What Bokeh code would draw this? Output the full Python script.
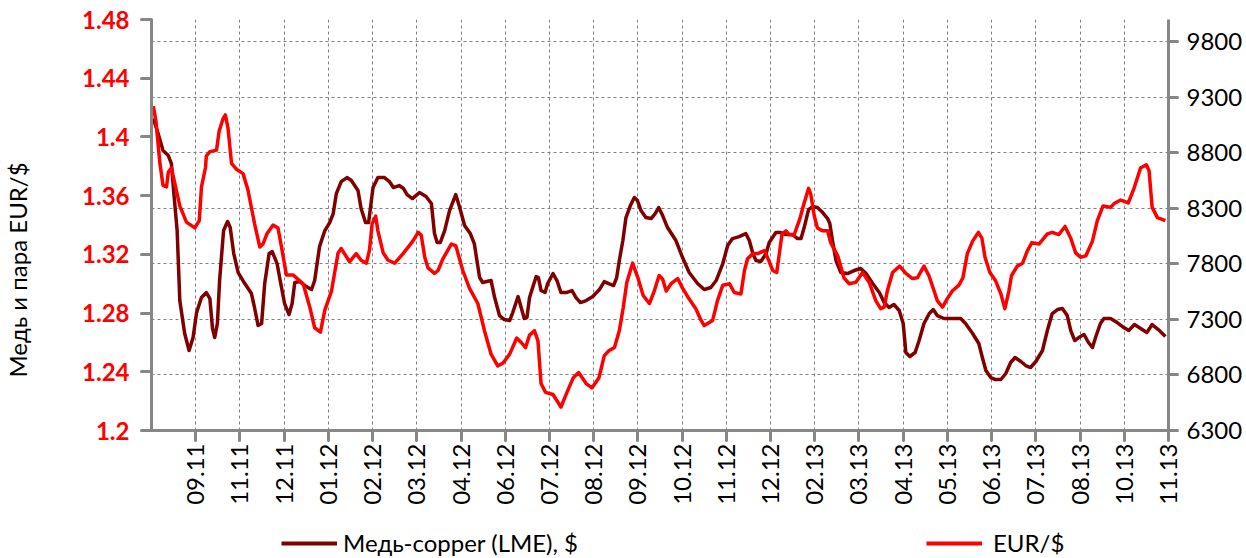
import math
from bokeh.plotting import figure
from bokeh.layouts import column
from bokeh.models import Range1d, LinearAxis, FixedTicker, Legend, LegendItem
from bokeh.embed import file_html
from bokeh.resources import INLINE

# ---- categories / tick labels ----
month_labels = ["09.11", "11.11", "12.11", "01.12", "02.12", "03.12", "04.12", "06.12",
                "07.12", "08.12", "09.12", "10.12", "11.12", "12.12", "02.13", "03.13",
                "04.13", "05.13", "06.13", "07.13", "08.13", "10.13", "11.13"]
month_pos = list(range(1, 24))

eur_ticks = [1.2, 1.24, 1.28, 1.32, 1.36, 1.4, 1.44, 1.48]
eur_tick_labels = ["1.2", "1.24", "1.28", "1.32", "1.36", "1.4", "1.44", "1.48"]
cu_ticks = [6300, 6800, 7300, 7800, 8300, 8800, 9300, 9800]

y_title = "Медь и пара EUR/$"

# ---- series: EUR/$ (left axis) ----
eur_t = [0.04, 0.10, 0.19, 0.26, 0.34, 0.38, 0.45, 0.53, 0.64, 0.79,
         0.98, 1.08, 1.13, 1.22, 1.24, 1.32, 1.47, 1.53, 1.62, 1.67,
         1.73, 1.81, 1.92, 2.07, 2.18, 2.33, 2.45, 2.52, 2.61, 2.75,
         2.86, 2.94, 3.05, 3.20, 3.43, 3.58, 3.69, 3.82, 3.92, 4.07,
         4.22, 4.29, 4.48, 4.63, 4.74, 4.86, 4.93, 4.99, 5.07, 5.12,
         5.24, 5.35, 5.50, 5.69, 5.91, 6.03, 6.10, 6.18, 6.25, 6.40,
         6.48, 6.59, 6.78, 6.88, 7.04, 7.19, 7.38, 7.53, 7.68, 7.83,
         7.95, 8.10, 8.26, 8.36, 8.46, 8.55, 8.66, 8.74, 8.81, 8.91,
         9.08, 9.26, 9.41, 9.54, 9.66, 9.83, 9.96, 10.12, 10.24, 10.35,
         10.47, 10.58, 10.67, 10.75, 10.88, 11.00, 11.12, 11.26, 11.37, 11.48,
         11.56, 11.64, 11.75, 11.90, 12.01, 12.13, 12.31, 12.43, 12.50, 12.69,
         12.80, 12.92, 13.07, 13.18, 13.33, 13.41, 13.48, 13.60, 13.71, 13.86,
         13.93, 14.05, 14.14, 14.26, 14.35, 14.42, 14.53, 14.66, 14.76, 14.86,
         14.91, 14.99, 15.06, 15.18, 15.29, 15.36, 15.52, 15.66, 15.78, 15.93,
         16.08, 16.23, 16.38, 16.49, 16.57, 16.64, 16.76, 16.92, 17.06, 17.21,
         17.32, 17.47, 17.58, 17.70, 17.77, 17.89, 18.00, 18.11, 18.26, 18.35,
         18.45, 18.57, 18.70, 18.78, 18.85, 18.96, 19.09, 19.21, 19.30, 19.39,
         19.45, 19.58, 19.70, 19.81, 19.91, 20.07, 20.26, 20.37, 20.52, 20.66,
         20.79, 20.90, 21.01, 21.13, 21.28, 21.39, 21.52, 21.62, 21.69, 21.77,
         21.92, 22.09, 22.22, 22.37, 22.50, 22.56, 22.63, 22.75, 22.93]
eur_v = [1.421, 1.411, 1.382, 1.367, 1.366, 1.376, 1.379, 1.368, 1.353, 1.342,
         1.338, 1.343, 1.366, 1.379, 1.387, 1.390, 1.391, 1.404, 1.4125, 1.415,
         1.406, 1.382, 1.378, 1.375, 1.364, 1.341, 1.325, 1.327, 1.334, 1.340,
         1.338, 1.325, 1.306, 1.306, 1.300, 1.284, 1.270, 1.267, 1.282, 1.295,
         1.321, 1.324, 1.315, 1.3205, 1.316, 1.314, 1.323, 1.341, 1.346, 1.336,
         1.321, 1.316, 1.314, 1.3205, 1.329, 1.335, 1.333, 1.318, 1.311, 1.307,
         1.309, 1.317, 1.327, 1.326, 1.309, 1.297, 1.2865, 1.268, 1.252, 1.244,
         1.246, 1.252, 1.263, 1.260, 1.2565, 1.265, 1.268, 1.261, 1.232, 1.226,
         1.2245, 1.216, 1.227, 1.236, 1.2395, 1.232, 1.229, 1.236, 1.251, 1.2545,
         1.2565, 1.268, 1.284, 1.301, 1.314, 1.304, 1.292, 1.2865, 1.295, 1.3056,
         1.303, 1.295, 1.300, 1.3035, 1.297, 1.291, 1.283, 1.275, 1.2715, 1.275,
         1.2885, 1.299, 1.300, 1.294, 1.293, 1.309, 1.317, 1.3205, 1.3205, 1.3226,
         1.318, 1.309, 1.3076, 1.334, 1.336, 1.3335, 1.333, 1.344, 1.355, 1.365,
         1.361, 1.346, 1.338, 1.336, 1.336, 1.328, 1.319, 1.304, 1.300, 1.301,
         1.3076, 1.301, 1.2885, 1.283, 1.284, 1.295, 1.3076, 1.312, 1.307, 1.3035,
         1.304, 1.312, 1.3056, 1.295, 1.2885, 1.284, 1.290, 1.295, 1.299, 1.304,
         1.3205, 1.329, 1.335, 1.331, 1.318, 1.3076, 1.302, 1.293, 1.283, 1.295,
         1.3056, 1.312, 1.314, 1.3226, 1.328, 1.327, 1.334, 1.335, 1.3335, 1.339,
         1.331, 1.321, 1.318, 1.319, 1.329, 1.343, 1.353, 1.3525, 1.352, 1.3546,
         1.357, 1.355, 1.365, 1.379, 1.381, 1.377, 1.352, 1.345, 1.343]

# ---- series: copper LME, $ (right axis) ----
cu_t = [0.04, 0.15, 0.26, 0.38, 0.45, 0.50, 0.58, 0.64, 0.75, 0.85,
        0.94, 1.02, 1.13, 1.24, 1.32, 1.38, 1.43, 1.49, 1.54, 1.63,
        1.72, 1.78, 1.86, 1.96, 2.11, 2.26, 2.33, 2.41, 2.49, 2.56,
        2.66, 2.73, 2.84, 2.91, 3.01, 3.11, 3.18, 3.24, 3.35, 3.50,
        3.62, 3.69, 3.80, 3.92, 4.03, 4.11, 4.18, 4.29, 4.42, 4.52,
        4.67, 4.74, 4.84, 4.91, 5.01, 5.12, 5.27, 5.38, 5.47, 5.60,
        5.70, 5.78, 5.90, 6.06, 6.21, 6.33, 6.40, 6.46, 6.53, 6.63,
        6.74, 6.88, 6.97, 7.08, 7.21, 7.30, 7.42, 7.49, 7.58, 7.68,
        7.76, 7.87, 7.98, 8.10, 8.17, 8.29, 8.36, 8.43, 8.49, 8.55,
        8.62, 8.70, 8.75, 8.81, 8.90, 8.96, 9.08, 9.17, 9.26, 9.38,
        9.51, 9.60, 9.70, 9.83, 9.98, 10.13, 10.24, 10.34, 10.45, 10.52,
        10.58, 10.66, 10.73, 10.83, 10.92, 10.99, 11.07, 11.18, 11.30, 11.39,
        11.47, 11.56, 11.67, 11.86, 12.01, 12.16, 12.35, 12.50, 12.65, 12.77,
        12.92, 13.03, 13.14, 13.29, 13.44, 13.52, 13.60, 13.67, 13.78, 13.90,
        13.97, 14.12, 14.23, 14.35, 14.50, 14.61, 14.69, 14.76, 14.86, 14.95,
        15.06, 15.18, 15.29, 15.34, 15.40, 15.48, 15.59, 15.74, 15.89, 16.04,
        16.16, 16.31, 16.46, 16.57, 16.68, 16.79, 16.91, 17.00, 17.06, 17.15,
        17.27, 17.36, 17.47, 17.59, 17.68, 17.77, 17.92, 18.11, 18.30, 18.41,
        18.57, 18.71, 18.79, 18.87, 18.98, 19.09, 19.21, 19.32, 19.43, 19.53,
        19.66, 19.77, 19.88, 20.00, 20.15, 20.26, 20.37, 20.49, 20.60, 20.71,
        20.79, 20.88, 20.97, 21.09, 21.19, 21.28, 21.35, 21.46, 21.54, 21.69,
        21.84, 21.99, 22.10, 22.23, 22.37, 22.51, 22.63, 22.77, 22.93]
cu_v = [9108, 8973, 8820, 8775, 8703, 8460, 8100, 7470, 7173, 7020,
        7137, 7362, 7497, 7542, 7488, 7218, 7137, 7263, 7650, 8100,
        8181, 8127, 7893, 7722, 7623, 7533, 7407, 7245, 7263, 7623,
        7893, 7911, 7803, 7650, 7443, 7344, 7443, 7632, 7641, 7596,
        7569, 7650, 7955, 8100, 8172, 8253, 8433, 8541, 8577, 8550,
        8460, 8298, 8172, 8172, 8487, 8577, 8577, 8541, 8487, 8505,
        8478, 8424, 8388, 8442, 8406, 8343, 8073, 7992, 7992, 8100,
        8280, 8424, 8307, 8145, 8073, 7983, 7677, 7632, 7641, 7650,
        7497, 7335, 7299, 7290, 7362, 7506, 7407, 7308, 7317, 7497,
        7587, 7686, 7677, 7560, 7542, 7623, 7713, 7650, 7542, 7542,
        7560, 7497, 7452, 7470, 7506, 7569, 7641, 7623, 7605, 7677,
        7830, 8010, 8217, 8325, 8397, 8370, 8280, 8217, 8208, 8253,
        8307, 8235, 8127, 8010, 7857, 7722, 7623, 7569, 7587, 7650,
        7803, 7965, 8028, 8046, 8073, 8010, 7893, 7830, 7821, 7893,
        7992, 8082, 8082, 8064, 8064, 8028, 8028, 8127, 8289, 8316,
        8307, 8262, 8208, 8163, 8010, 7830, 7722, 7713, 7740, 7758,
        7713, 7623, 7542, 7452, 7407, 7434, 7380, 7263, 7002, 6966,
        7002, 7110, 7263, 7353, 7389, 7335, 7308, 7308, 7308, 7263,
        7173, 7083, 6957, 6840, 6777, 6759, 6759, 6813, 6912, 6957,
        6921, 6885, 6867, 6921, 7020, 7200, 7353, 7389, 7398, 7335,
        7200, 7110, 7137, 7164, 7092, 7047, 7137, 7263, 7308, 7308,
        7272, 7227, 7200, 7254, 7218, 7182, 7254, 7209, 7146]

AXIS_GRAY = "#878787"
FONT = "Lato"
CU_COLOR = "#800000"
EUR_COLOR = "#FF0000"

p = figure(width=1246, height=520,
           x_range=Range1d(0, 23), y_range=Range1d(6300, 10000),
           y_axis_location="right",
           output_backend="svg", toolbar_location=None,
           min_border_left=150, min_border_right=78,
           min_border_top=19, min_border_bottom=90)
p.outline_line_color = None
p.background_fill_color = "white"
p.border_fill_color = "white"
p.extra_y_ranges = {"eur": Range1d(1.2, 1.48)}

cu_axis = p.right[0]

eur_axis = LinearAxis(y_range_name="eur", ticker=FixedTicker(ticks=eur_ticks),
                      major_label_overrides=dict(zip(eur_ticks, eur_tick_labels)))
p.add_layout(eur_axis, "left")


def style_axis(ax, tick_out, standoff):
    ax.axis_line_color = AXIS_GRAY
    ax.axis_line_width = 3
    ax.major_tick_line_color = AXIS_GRAY
    ax.major_tick_line_width = 3
    ax.major_tick_line_cap = "round"
    ax.major_tick_out = tick_out
    ax.major_tick_in = 0
    ax.minor_tick_line_color = None
    ax.major_label_text_font = FONT
    ax.major_label_standoff = standoff


cu_axis.ticker = FixedTicker(ticks=cu_ticks)
style_axis(cu_axis, 9, 9)
cu_axis.major_label_text_font_size = "24px"
cu_axis.major_label_text_color = "black"

style_axis(eur_axis, 10, 12)
eur_axis.major_label_text_font_size = "24px"
eur_axis.major_label_text_font_style = "bold"
eur_axis.major_label_text_color = EUR_COLOR
# axis title; trailing em-spaces lift the centre so the visible words sit lower
eur_axis.axis_label = y_title + "\u2003\u2003\u2003\u2003\u2003"
eur_axis.axis_label_standoff = 47
eur_axis.axis_label_text_font = FONT
eur_axis.axis_label_text_font_size = "24px"
eur_axis.axis_label_text_font_style = "normal"
eur_axis.axis_label_text_color = "black"

xa = p.below[0]
xa.ticker = FixedTicker(ticks=month_pos)
xa.major_label_overrides = dict(zip(month_pos, month_labels))
xa.major_label_orientation = math.pi / 2
style_axis(xa, 10, 3)
xa.major_label_text_font_size = "24px"
xa.major_label_text_color = "black"

p.xgrid.ticker = FixedTicker(ticks=month_pos)
p.ygrid.ticker = FixedTicker(ticks=cu_ticks)
for g in (p.xgrid, p.ygrid):
    g.grid_line_color = "#808080"
    g.grid_line_width = 1
    g.grid_line_dash = "3 3"

p.line(cu_t, cu_v, line_color=CU_COLOR, line_width=3.5, line_join="round")
p.line(eur_t, eur_v, y_range_name="eur", line_color=EUR_COLOR,
       line_width=3.5, line_join="round")

# ---- legend strip under the chart (frame is aligned with the chart's frame) ----
lg = figure(width=1246, height=38, x_range=Range1d(0, 1), y_range=Range1d(0, 1),
            x_axis_type=None, y_axis_type=None,
            output_backend="svg", toolbar_location=None, min_border=0)
lg.outline_line_color = None
lg.grid.visible = False
# same series, outside this strip's view: only their legend swatches show
lg_cu = lg.line(cu_t, cu_v, line_color=CU_COLOR, line_width=4)
lg_eur = lg.line(eur_t, eur_v, line_color=EUR_COLOR, line_width=4)


def make_legend(label, rend, loc, standoff):
    return Legend(items=[LegendItem(label=label, renderers=[rend])], location=loc,
                  border_line_color=None, background_fill_alpha=0,
                  padding=0, margin=0, spacing=0,
                  glyph_width=56, glyph_height=22, label_standoff=standoff,
                  label_text_font=FONT, label_text_font_size="24px",
                  label_text_color="black")


lg.add_layout(make_legend("Медь-copper (LME), $", lg_cu, (130, 1), 6))
lg.add_layout(make_legend("EUR/$", lg_eur, (775, 1), 11))

open("out.html", "w").write(file_html(column(p, lg, spacing=0), INLINE))
